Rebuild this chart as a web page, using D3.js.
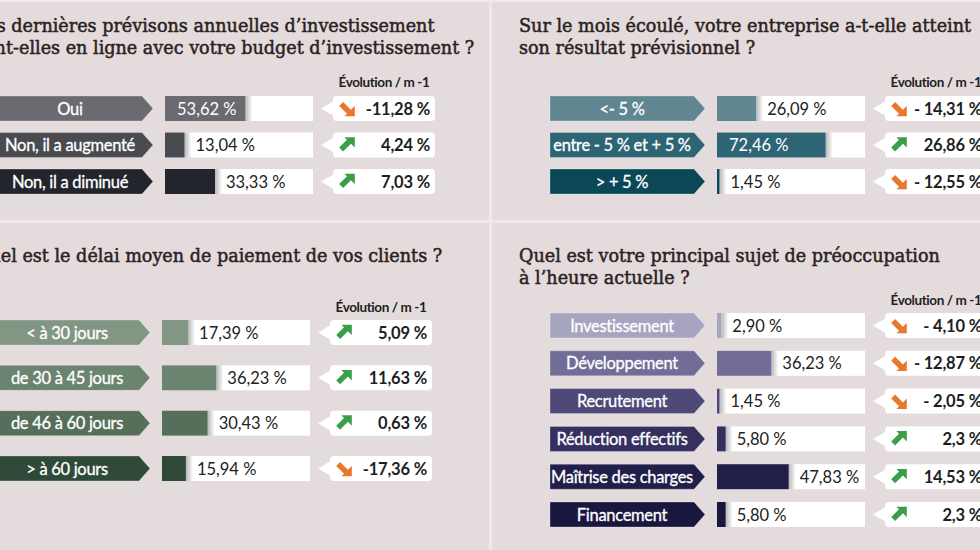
<!DOCTYPE html>
<html>
<head>
<meta charset="utf-8">
<script src="https://cdn.jsdelivr.net/npm/d3@7"></script>
<style>
html, body { margin: 0; padding: 0; background: #e4dcdc; }
svg { display: block; }
</style>
</head>
<body>
<svg id="chart" width="980" height="550"></svg>
<script>
var investTitle = ['Vos dernières prévisons annuelles d’investissement',
    'sont-elles en ligne avec votre budget d’investissement ?'];
var investLabels = ['Oui', 'Non, il a augmenté', 'Non, il a diminué'];
var investValues = [53.62, 13.04, 33.33];
var investEvol = ['-11.28', '4.24', '7.03'];

var resultTitle = ['Sur le mois écoulé, votre entreprise a-t-elle atteint',
    'son résultat prévisionnel ?'];
var resultLabels = ['<- 5 %', 'entre - 5 % et + 5 %', '> + 5 %'];
var resultValues = [26.09, 72.46, 1.45];
var resultEvol = ['-14.31', '26.86', '-12.55'];

var delayTitle = ['Quel est le délai moyen de paiement de vos clients ?'];
var delayLabels = ['< à 30 jours', 'de 30 à 45 jours', 'de 46 à 60 jours', '> à 60 jours'];
var delayValues = [17.39, 36.23, 30.43, 15.94];
var delayEvol = ['5.09', '11.63', '0.63', '-17.36'];

var worryTitle = ['Quel est votre principal sujet de préoccupation',
    'à l’heure actuelle ?'];
var worryLabels = ['Investissement', 'Développement', 'Recrutement',
    'Réduction effectifs', 'Maîtrise des charges', 'Financement'];
var worryValues = [2.90, 36.23, 1.45, 5.80, 47.83, 5.80];
var worryEvol = ['-4.10', '-12.87', '-2.05', '2.3', '14.53', '2.3'];

var investColors = ['#6b6a70', '#4a4a51', '#22252c'];
var resultColors = ['#5f8691', '#2e6575', '#0b4857'];
var delayColors = ['#819784', '#6a8470', '#566f5b', '#2f4a39'];
var worryColors = ['#a7a4c0', '#716d97', '#4e4979', '#35305f', '#211e4a', '#1a173f'];

// --- layout ---
var panels = [
    {x0: -60, titleX: 35, titleY: 32, headerY: 87, rows: [108.5, 181.5],
        title: investTitle, labels: investLabels, values: investValues,
        evol: investEvol, colors: investColors, tight: true},
    {x0: 492, titleX: 27, titleY: 32, headerY: 87, rows: [108.5, 181.5],
        title: resultTitle, labels: resultLabels, values: resultValues,
        evol: resultEvol, colors: resultColors, tight: false},
    {x0: -63, titleX: 38, titleY: 262, headerY: 312, rows: [332.5, 468.5],
        title: delayTitle, labels: delayLabels, values: delayValues,
        evol: delayEvol, colors: delayColors, tight: true},
    {x0: 492, titleX: 27, titleY: 262, headerY: 305, rows: [325.5, 514.5],
        title: worryTitle, labels: worryLabels, values: worryValues,
        evol: worryEvol, colors: worryColors, tight: false}
];

var fr = d3.formatLocale({decimal: ',', thousands: ' ', grouping: [3], currency: ['', ' €']});
var pct = fr.format('.2f');

var svg = d3.select('#chart');
var defs = svg.append('defs');

var shade = defs.append('linearGradient').attr('id', 'shade');
shade.append('stop').attr('offset', '0%').attr('stop-color', '#000').attr('stop-opacity', 0.28);
shade.append('stop').attr('offset', '100%').attr('stop-color', '#000').attr('stop-opacity', 0);

// background and panel separators
svg.append('rect').attr('width', 980).attr('height', 550).attr('fill', '#e4dcdc');
svg.append('rect').attr('x', 0).attr('y', 0).attr('width', 980).attr('height', 2).attr('fill', '#efe9e9');
svg.append('rect').attr('x', 489).attr('y', 0).attr('width', 3).attr('height', 550).attr('fill', '#efe9e9');
svg.append('rect').attr('x', 0).attr('y', 220).attr('width', 980).attr('height', 3).attr('fill', '#efe9e9');

var H = 25;            // row height
var bannerX = 58, bannerW = 155, tipW = 11;
var barX = 225, boxW = 148;
var evolX = 393, evolW = 102, evolTip = 12;

var x = d3.scaleLinear().domain([0, 100]).range([0, 150]);

// thick diagonal arrow, pointing up-right
var arrowPath = 'M-2,-6H6V2L3,-1L-3,5L-6,2L0,-4Z';

panels.forEach(function(p) {
    var g = svg.append('g').attr('transform', 'translate(' + p.x0 + ',0)');
    var y = d3.scalePoint().domain(p.labels).range(p.rows);

    g.selectAll('text.title')
        .data(p.title)
        .enter().append('text')
        .attr('class', 'title')
        .attr('x', p.titleX)
        .attr('y', function(d, i) { return p.titleY + i * 22; })
        .attr('font-family', '"DejaVu Serif", serif')
        .attr('font-size', 17.6)
        .attr('fill', '#2b2222')
        .attr('stroke', '#2b2222')
        .attr('stroke-width', 0.5)
        .text(function(d) { return d; });

    g.append('text')
        .attr('x', evolX + evolW / 2)
        .attr('y', p.headerY)
        .attr('text-anchor', 'middle')
        .attr('font-family', 'Lato, sans-serif')
        .attr('font-weight', 'bold')
        .attr('font-size', 13.5)
        .attr('letter-spacing', -0.4)
        .attr('fill', '#222')
        .text('Évolution / m -1');

    var rows = g.selectAll('g.row')
        .data(p.labels.map(function(l, i) {
            return {label: l, value: p.values[i], evol: p.evol[i], color: p.colors[i]};
        }))
        .enter().append('g')
        .attr('class', 'row')
        .attr('transform', function(d) { return 'translate(0,' + y(d.label) + ')'; });

    // label banner
    rows.append('path')
        .attr('d', 'M' + bannerX + ',' + (-H / 2) +
            'H' + (bannerX + bannerW - tipW) +
            'L' + (bannerX + bannerW) + ',0' +
            'L' + (bannerX + bannerW - tipW) + ',' + (H / 2) +
            'H' + bannerX + 'Z')
        .attr('fill', function(d) { return d.color; })
        .attr('stroke', 'rgba(255,255,255,0.35)')
        .attr('stroke-width', 0.8);

    rows.append('text')
        .attr('x', bannerX + (bannerW - tipW) / 2)
        .attr('y', 6)
        .attr('text-anchor', 'middle')
        .attr('font-family', 'Lato, sans-serif')
        .attr('font-size', 16.5)
        .attr('letter-spacing', -0.3)
        .attr('fill', '#fff')
        .attr('stroke', '#fff')
        .attr('stroke-width', 0.3)
        .text(function(d) { return d.label; });

    // white value box with bar
    rows.append('rect')
        .attr('x', barX).attr('y', -H / 2)
        .attr('width', boxW).attr('height', H)
        .attr('fill', '#fff');

    rows.append('rect')
        .attr('x', function(d) { return barX + Math.max(x(d.value), 2.5); })
        .attr('y', -H / 2)
        .attr('width', 7).attr('height', H)
        .attr('fill', 'url(#shade)');

    rows.append('rect')
        .attr('x', barX).attr('y', -H / 2)
        .attr('width', function(d) { return Math.max(x(d.value), 2.5); })
        .attr('height', H)
        .attr('fill', function(d) { return d.color; });

    rows.append('text')
        .attr('x', function(d) {
            return d.value > 50 ? barX + 12 : barX + Math.max(x(d.value), 2.5) + 11;
        })
        .attr('y', 6)
        .attr('font-family', 'Lato, sans-serif')
        .attr('font-size', 16.5)
        .attr('fill', function(d) { return d.value > 50 ? '#fff' : '#222'; })
        .text(function(d) { return pct(d.value) + ' %'; });

    // evolution bubble
    rows.append('path')
        .attr('d', 'M' + (evolX - evolTip) + ',0' +
            'L' + evolX + ',-7' +
            'V' + (-H / 2 + 4) + 'Q' + evolX + ',' + (-H / 2) + ' ' + (evolX + 4) + ',' + (-H / 2) +
            'H' + (evolX + evolW - 4) + 'Q' + (evolX + evolW) + ',' + (-H / 2) + ' ' + (evolX + evolW) + ',' + (-H / 2 + 4) +
            'V' + (H / 2 - 4) + 'Q' + (evolX + evolW) + ',' + (H / 2) + ' ' + (evolX + evolW - 4) + ',' + (H / 2) +
            'H' + (evolX + 4) + 'Q' + evolX + ',' + (H / 2) + ' ' + evolX + ',' + (H / 2 - 4) +
            'V7Z')
        .attr('fill', '#fff');

    rows.append('path')
        .attr('d', arrowPath)
        .attr('transform', function(d) {
            return 'translate(' + (evolX + 14) + ',0) scale(1.3,' + (+d.evol < 0 ? -1.3 : 1.3) + ')';
        })
        .attr('fill', function(d) { return +d.evol < 0 ? '#e8792c' : '#3b9e48'; });

    rows.append('text')
        .attr('x', evolX + evolW - 5)
        .attr('y', 6)
        .attr('text-anchor', 'end')
        .attr('font-family', 'Lato, sans-serif')
        .attr('font-weight', 'bold')
        .attr('font-size', 16.5)
        .attr('letter-spacing', -0.2)
        .attr('fill', '#1e1e1e')
        .text(function(d) {
            var v = d.evol.replace('.', ',');
            if(v.charAt(0) === '-') v = (p.tight ? '-' : '- ') + v.slice(1);
            return v + ' %';
        });
});
</script>
</body>
</html>
